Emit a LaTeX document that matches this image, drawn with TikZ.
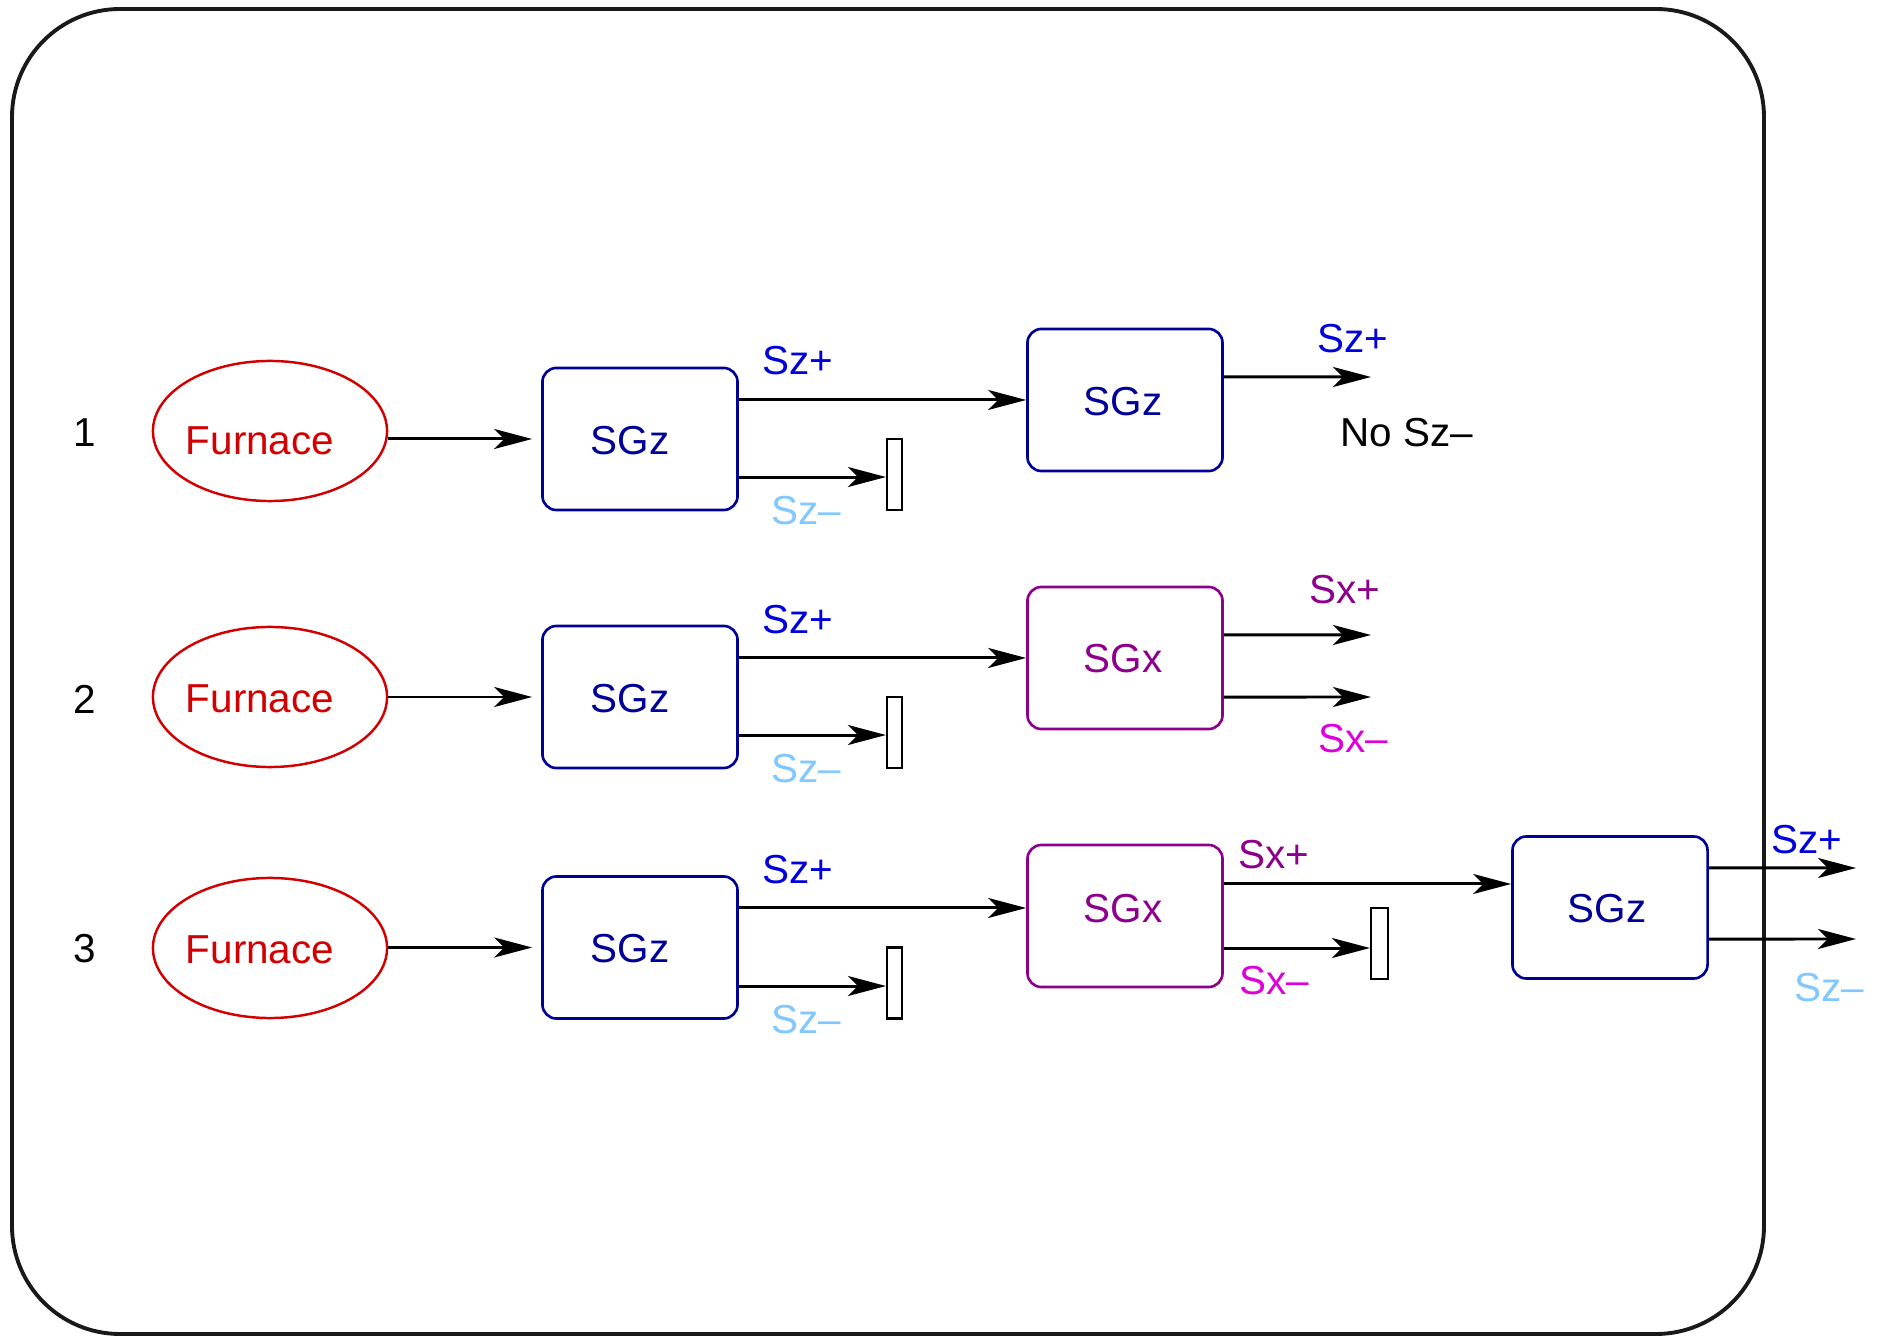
\documentclass[tikz,border=0pt]{standalone}
\usepackage{fontspec}
\setmainfont{Liberation Sans}
\usetikzlibrary{shapes.geometric,arrows.meta}
\definecolor{furnacered}{RGB}{210,0,0}
\definecolor{sgnavy}{RGB}{0,0,150}
\definecolor{spinup}{RGB}{0,0,220}
\definecolor{spindown}{RGB}{128,200,255}
\definecolor{sgpurple}{RGB}{140,0,140}
\definecolor{xdown}{RGB}{220,0,220}
\begin{document}
\begin{tikzpicture}[x=0.01cm,y=-0.01cm,
  txt/.style={font=\fontsize{11.5}{13}\selectfont, inner sep=0pt},
  furnace/.style={ellipse, draw=furnacered, line width=0.7pt, minimum width=2.34cm, minimum height=1.40cm, inner sep=0pt},
  zbox/.style={rectangle, rounded corners=0.14cm, draw=sgnavy, line width=0.75pt, minimum width=1.95cm, minimum height=1.42cm, inner sep=0pt},
  xbox/.style={zbox, draw=sgpurple},
  stopper/.style={rectangle, draw=black, line width=0.6pt, minimum width=0.15cm, minimum height=0.71cm, inner sep=0pt},
  conn/.style={line width=0.85pt, -{Stealth[length=0.38cm,width=0.2cm,inset=0.1cm]}},
]
\useasboundingbox (0,0) rectangle (1881,1337);
% outer frame
\draw[line width=1.1pt, rounded corners=1.08cm, black!90] (12,9) rectangle (1764,1334);

% ---------- experiment 1 ----------
\node[txt] (n1) at (85,433) {1};
\node[furnace] (f1) at (270,431) {};
\node[txt,text=furnacered] (f1t) at (260,441) {Furnace};
\node[zbox] (a1) at (640,439) {};
\node[txt,text=sgnavy] (a1t) at (630,441) {SGz};
\node[zbox] (c1) at (1125,400) {};
\node[txt,text=sgnavy] (c1t) at (1123,402) {SGz};
\node[stopper] (s1) at (894.5,474.5) {};
\coordinate (o1) at (1371,377);
\draw[conn, shorten >=0.09cm] (f1.east |- a1.west) -- (a1.west);
\draw[conn] ([yshift=0.39cm]a1.east) -- ([yshift=0.39cm]a1.east -| c1.west);
\draw[conn] ([yshift=-0.38cm]a1.east) -- ([yshift=-0.38cm]a1.east -| s1.west);
\draw[conn] ([yshift=0.23cm]c1.east) -- (o1);
\node[txt,text=spinup] (l1a) at (798,361) {Sz+};
\node[txt,text=spindown] (l1b) at (806,511) {Sz–};
\node[txt,text=spinup] (l1c) at (1353,339) {Sz+};
\node[txt] (l1d) at (1407,433) {No Sz–};

% ---------- experiment 2 ----------
\node[txt] (n2) at (85,699) {2};
\node[furnace] (f2) at (270,697) {};
\node[txt,text=furnacered] (f2t) at (260,699) {Furnace};
\node[zbox] (a2) at (640,697) {};
\node[txt,text=sgnavy] (a2t) at (630,699) {SGz};
\node[xbox] (x2) at (1125,658) {};
\node[txt,text=sgpurple] (x2t) at (1123,659) {SGx};
\node[stopper] (s2) at (894.5,732.5) {};
\coordinate (o2a) at (1371,635);
\coordinate (o2b) at (1371,697);
\draw[conn, shorten >=0.09cm] (f2.east |- a2.west) -- (a2.west);
\draw[conn] ([yshift=0.39cm]a2.east) -- ([yshift=0.39cm]a2.east -| x2.west);
\draw[conn] ([yshift=-0.38cm]a2.east) -- ([yshift=-0.38cm]a2.east -| s2.west);
\draw[conn] ([yshift=0.23cm]x2.east) -- (o2a);
\draw[conn] ([yshift=-0.39cm]x2.east) -- (o2b);
\node[txt,text=spinup] (l2a) at (798,620) {Sz+};
\node[txt,text=spindown] (l2b) at (806,769) {Sz–};
\node[txt,text=sgpurple] (l2c) at (1345,590) {Sx+};
\node[txt,text=xdown] (l2d) at (1353,739) {Sx–};

% ---------- experiment 3 ----------
\node[txt] (n3) at (85,949) {3};
\node[furnace] (f3) at (270,948) {};
\node[txt,text=furnacered] (f3t) at (260,950) {Furnace};
\node[zbox] (a3) at (640,947.5) {};
\node[txt,text=sgnavy] (a3t) at (630,949) {SGz};
\node[xbox] (x3) at (1125,916) {};
\node[txt,text=sgpurple] (x3t) at (1123,909) {SGx};
\node[stopper] (s3) at (894.5,983) {};
\node[zbox] (z3) at (1610,907.5) {};
\node[txt,text=sgnavy] (z3t) at (1607,909) {SGz};
\node[stopper, minimum width=0.17cm] (s4) at (1379.5,943.5) {};
\coordinate (o3a) at (1856,868);
\coordinate (o3b) at (1856,939);
\draw[conn, shorten >=0.09cm] (f3.east |- a3.west) -- (a3.west);
\draw[conn] ([yshift=0.395cm]a3.east) -- ([yshift=0.395cm]a3.east -| x3.west);
\draw[conn] ([yshift=-0.385cm]a3.east) -- ([yshift=-0.385cm]a3.east -| s3.west);
\draw[conn] ([yshift=0.32cm]x3.east) -- ([yshift=0.32cm]x3.east -| z3.west);
\draw[conn] ([yshift=-0.32cm]x3.east) -- ([yshift=-0.32cm]x3.east -| s4.west);
\draw[conn] ([yshift=0.395cm]z3.east) -- (o3a);
\draw[conn] ([yshift=-0.315cm]z3.east) -- (o3b);
\node[txt,text=spinup] (l3a) at (798,870) {Sz+};
\node[txt,text=spindown] (l3b) at (806,1020) {Sz–};
\node[txt,text=sgpurple] (l3c) at (1274,855) {Sx+};
\node[txt,text=xdown] (l3d) at (1274,981) {Sx–};
\node[txt,text=spinup] (l3e) at (1807,840) {Sz+};
\node[txt,text=spindown] (l3f) at (1829,988) {Sz–};
\end{tikzpicture}
\end{document}
